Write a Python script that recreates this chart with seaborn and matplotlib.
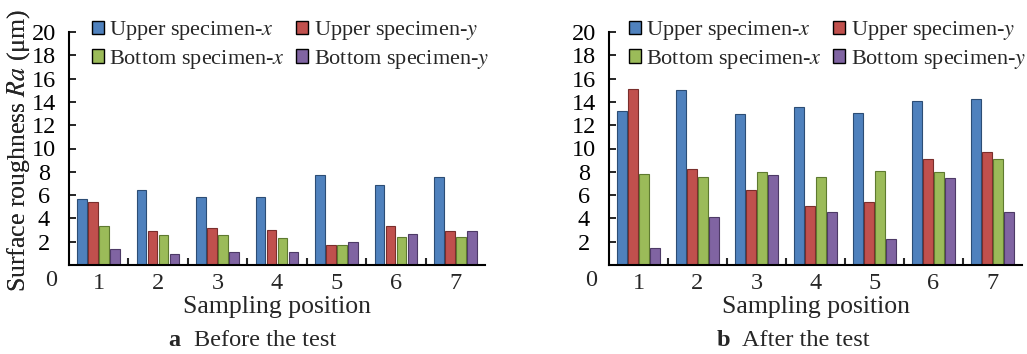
import numpy as np
import pandas as pd
import seaborn as sns
import matplotlib
matplotlib.use("Agg")
import matplotlib.pyplot as plt
from matplotlib.patches import Patch
from matplotlib.transforms import ScaledTranslation

positions = ["1", "2", "3", "4", "5", "6", "7"]
series = ["Upper specimen-$x$", "Upper specimen-$y$",
          "Bottom specimen-$x$", "Bottom specimen-$y$"]
colors = ["#4F81BD", "#C0504D", "#9BBB59", "#8064A2"]
edges = ["#2C4D75", "#7A2E2C", "#5E7A30", "#4D3A66"]

before_upper_x = [5.67, 6.48, 5.85, 5.85, 7.71, 6.85, 7.56]
before_upper_y = [5.44, 2.92, 3.21, 3.04, 1.69, 3.32, 2.92]
before_bottom_x = [3.38, 2.55, 2.55, 2.29, 1.72, 2.44, 2.41]
before_bottom_y = [1.35, 0.95, 1.15, 1.15, 2.00, 2.69, 2.92]

after_upper_x = [13.18, 15.01, 12.95, 13.58, 13.01, 14.07, 14.24]
after_upper_y = [15.13, 8.25, 6.48, 5.04, 5.44, 9.14, 9.71]
after_bottom_x = [7.82, 7.56, 7.97, 7.56, 8.08, 7.97, 9.08]
after_bottom_y = [1.43, 4.13, 7.71, 4.56, 2.26, 7.48, 4.56]

yticks = [2, 4, 6, 8, 10, 12, 14, 16, 18, 20]

sns.set_style("ticks")
plt.rcParams["font.family"] = ["Liberation Serif", "DejaVu Serif"]
plt.rcParams["mathtext.fontset"] = "stix"


def long_df(vals):
    rows = []
    for s, v in zip(series, vals):
        for p, val in zip(positions, v):
            rows.append({"pos": p, "val": val, "series": s})
    return pd.DataFrame(rows)


W, H = 1027, 354
fig = plt.figure(figsize=(W / 100, H / 100), dpi=100)


def panel(rect_px, vals, letter, caption, letter_x, cap_x):
    l, r, t, b = rect_px
    ax = fig.add_axes([l / W, 1 - b / H, (r - l) / W, (b - t) / H])
    df = long_df(vals)
    sns.barplot(data=df, x="pos", y="val", hue="series", palette=colors,
                width=0.74, gap=0.14, ax=ax, legend=False, saturation=1)
    for cont, ec in zip(ax.containers, edges):
        for p in cont:
            p.set_edgecolor(ec)
            p.set_linewidth(0.8)
    ax.set_xlim(-0.5, 6.5)
    ax.set_ylim(0, 20)
    ax.set_yticks([0] + yticks)
    ax.set_yticklabels([""] + [str(v) for v in yticks])
    for lbl in ax.get_yticklabels():
        lbl.set_horizontalalignment("center")
    ax.tick_params(axis="y", direction="in", length=5, width=1.2, pad=18,
                   labelsize=17.5, colors="black")
    ax.text(0, 0, "0", transform=ax.get_yaxis_transform()
            + ScaledTranslation(-18 / 100, -16 / 100, fig.dpi_scale_trans),
            ha="center", va="center", fontsize=17.5)
    ax.tick_params(axis="x", length=0, pad=6, labelsize=17.5)
    ax.set_xticks(np.arange(0.5, 6.0, 1.0), minor=True)
    ax.tick_params(axis="x", which="minor", direction="in", length=5, width=1.5)
    sns.despine(ax=ax)
    for sp in ["left", "bottom"]:
        ax.spines[sp].set_linewidth(1.5)
        ax.spines[sp].set_color("black")
    ax.set_xlabel("Sampling position", fontsize=18.5, labelpad=1)
    ax.set_ylabel("Surface roughness $Ra$ (μm)", fontsize=18.5)
    ax.yaxis.set_label_coords(-(l - 32) / (r - l), 0.49)
    handles = [Patch(facecolor=c, edgecolor="black", linewidth=1.0) for c in colors]
    order = [0, 2, 1, 3]
    ax.legend([handles[i] for i in order], [series[i] for i in order],
              ncol=2, loc="upper right",
              bbox_to_anchor=(1.01, 1.055), frameon=False, fontsize=16,
              borderaxespad=0, borderpad=0, handlelength=0.55, handleheight=0.55,
              handletextpad=0.25, columnspacing=0.5, labelspacing=0.25)
    fig.text(letter_x / W, 1 - 340 / H, letter, fontsize=17.5, fontweight="bold",
             ha="left", va="center")
    fig.text(cap_x / W, 1 - 340 / H, caption, fontsize=17.5, ha="left", va="center")
    return ax


panel((69, 485, 32, 265),
      [before_upper_x, before_upper_y, before_bottom_x, before_bottom_y],
      "a", "Before the test", 168, 194)
panel((609, 1022, 32, 265),
      [after_upper_x, after_upper_y, after_bottom_x, after_bottom_y],
      "b", "After the test", 717, 742)

fig.savefig("out.png", dpi=100)
